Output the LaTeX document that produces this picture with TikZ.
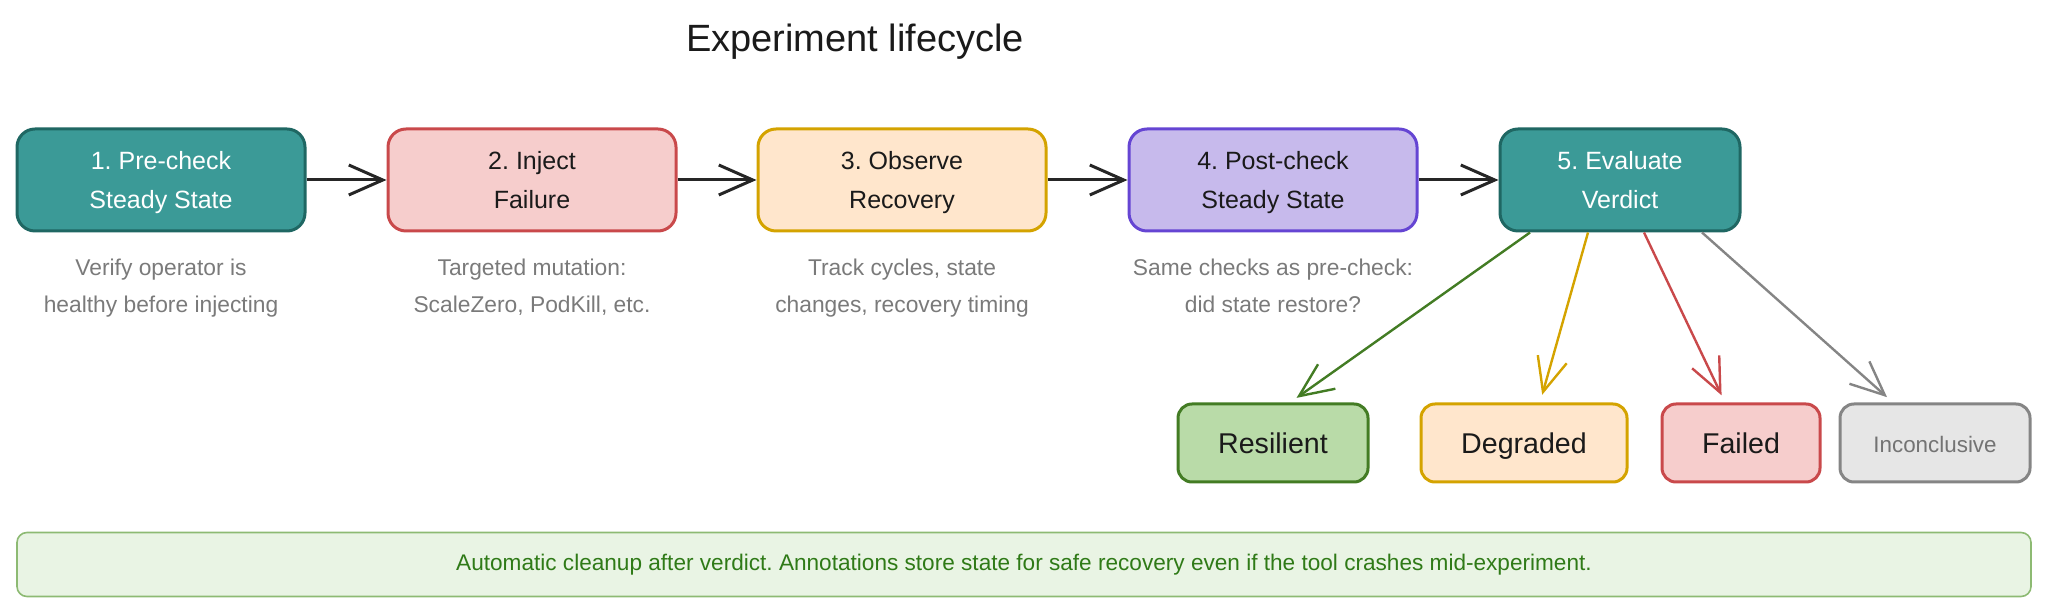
\documentclass[tikz,border=0pt]{standalone}
\usepackage{fontspec}
\setmainfont{Liberation Sans}
\usetikzlibrary{arrows.meta,positioning,calc}
\frenchspacing

\definecolor{tealfill}{HTML}{3B9A97}
\definecolor{tealline}{HTML}{1F6763}
\definecolor{redfill}{HTML}{F6CDCC}
\definecolor{redline}{HTML}{C9494B}
\definecolor{orangefill}{HTML}{FFE6CC}
\definecolor{orangeline}{HTML}{D4A300}
\definecolor{purplefill}{HTML}{C7BAEC}
\definecolor{purpleline}{HTML}{6545D3}
\definecolor{greenfill}{HTML}{B9DBA8}
\definecolor{greenline}{HTML}{437C24}
\definecolor{grayfill}{HTML}{E6E6E6}
\definecolor{grayline}{HTML}{858585}
\definecolor{notefill}{HTML}{E9F4E4}
\definecolor{noteline}{HTML}{8DBA73}
\definecolor{notetext}{HTML}{2F7A17}
\definecolor{desctext}{HTML}{7A7A7A}
\definecolor{boxtext}{HTML}{1A1A1A}

\begin{document}
\begin{tikzpicture}[x=0.5pt, y=-0.5pt, >={Straight Barb[length=17pt,width=15pt]}]
    \tikzset{
        stepbox/.style={draw, rounded corners=9pt, line width=1.5pt, minimum width=144pt, minimum height=51pt, align=center, text=boxtext, font=\fontsize{12.5}{19.5}\selectfont,
            execute at begin node={\rule{0pt}{33pt}}, execute at end node={\rule[-4.5pt]{0pt}{4.5pt}}},
        verdict/.style={draw, rounded corners=7pt, line width=1.5pt, minimum height=39pt, text height=13.2pt, text depth=3pt, text=boxtext, font=\fontsize{14.3}{17}\selectfont},
        desc/.style={align=center, text=desctext, inner sep=0pt, font=\fontsize{11.4}{18.3}\selectfont},
        flow/.style={->, line width=1.5pt, black!85},
        branch/.style={->, line width=1.2pt, shorten >=4pt}
    }
    \useasboundingbox (0,0) rectangle (2048,613);

    % title
    \node[font=\fontsize{19}{23}\selectfont, text=boxtext] (title) at (855,42) {Experiment lifecycle};

    % lifecycle steps
    \node[stepbox, fill=tealfill, draw=tealline, text=white] (pre) at (161,180) {1. Pre-check\\Steady State};
    \node[stepbox, fill=redfill, draw=redline] (inject) at (532,180) {2. Inject\\Failure};
    \node[stepbox, fill=orangefill, draw=orangeline] (observe) at (902,180) {3. Observe\\Recovery};
    \node[stepbox, fill=purplefill, draw=purpleline] (post) at (1273,180) {4. Post-check\\Steady State};
    \node[stepbox, fill=tealfill, draw=tealline, text=white, minimum width=120pt] (eval) at (1620,180) {5. Evaluate\\Verdict};

    \draw[flow] (pre) -- (inject);
    \draw[flow] (inject) -- (observe);
    \draw[flow] (observe) -- (post);
    \draw[flow] (post) -- (eval);

    % notes under the steps
    \node[desc, below=13.2pt of pre] (prenote) {Verify operator is\\healthy before injecting};
    \node[desc, below=13.2pt of inject] (injectnote) {Targeted mutation:\\ScaleZero, PodKill, etc.};
    \node[desc, below=13.2pt of observe] (observenote) {Track cycles, state\\changes, recovery timing};
    \node[desc, below=13.2pt of post] (postnote) {Same checks as pre-check:\\did state restore?};

    % verdicts
    \node[verdict, fill=greenfill, draw=greenline, minimum width=95pt] (res) at (1273,443) {Resilient};
    \node[verdict, fill=orangefill, draw=orangeline, minimum width=103pt] (deg) at (1524,443) {Degraded};
    \node[verdict, fill=redfill, draw=redline, minimum width=79pt] (fail) at (1741,443) {Failed};
    \node[verdict, fill=grayfill, draw=grayline, minimum width=95pt, text=black!55, text height=12pt, text depth=2.5pt, font=\fontsize{11.2}{14}\selectfont] (inc) at (1935,443) {Inconclusive};

    \draw[branch, greenline] ([xshift=-45pt]eval.south) -- ([xshift=8.5pt]res.north);
    \draw[branch, orangeline] ([xshift=-16pt]eval.south) -- ([xshift=8pt]deg.north);
    \draw[branch, redline] ([xshift=12pt]eval.south) -- ([xshift=-8pt]fail.north);
    \draw[branch, grayline] ([xshift=41pt]eval.south) -- ([xshift=-21pt]inc.north);

    % cleanup banner
    \node[draw=noteline, fill=notefill, rounded corners=5pt, line width=0.8pt, minimum width=1007pt, minimum height=32pt, text=notetext, font=\fontsize{11.3}{13}\selectfont] (cleanup) at (1024,564.5) {Automatic cleanup after verdict. Annotations store state for safe recovery even if the tool crashes mid-experiment.};
\end{tikzpicture}
\end{document}
